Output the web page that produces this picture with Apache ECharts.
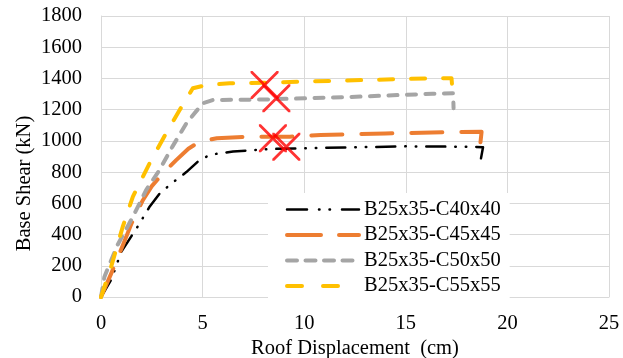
<!DOCTYPE html>
<html><head><meta charset="utf-8">
<script src="https://cdn.jsdelivr.net/npm/echarts@6/dist/echarts.min.js"></script>
<style>html,body{margin:0;padding:0;background:#fff}#c{width:623px;height:358px}</style>
</head><body><div id="c"></div>
<script>
const seriesNames = ['B25x35-C40x40','B25x35-C45x45','B25x35-C50x50','B25x35-C55x55'];
const xTicks = [0,5,10,15,20,25];
const yTicks = [0,200,400,600,800,1000,1200,1400,1600,1800];
const c40 = [[0,0],[0.5,110],[1.0,290],[1.8,450],[2.4,580],[2.9,665],[3.5,730],[4.2,800],[4.85,877],[5.4,912],[6.5,932],[8.3,948],[10,953],[12,958],[15,965],[18.4,962],[18.8,959],[18.7,888]];
const c45 = [[0,0],[0.5,150],[1.07,330],[1.5,470],[2.06,620],[2.5,710],[2.97,781],[3.7,877],[4.3,950],[4.85,995],[5.7,1017],[7.2,1027],[9.3,1027],[10.8,1038],[14,1048],[17.5,1057],[18.73,1059],[18.6,900]];
const c50 = [[0,0],[0.17,130],[0.8,330],[1.57,514],[2.22,685],[2.88,814],[3.5,960],[4.2,1112],[5.0,1240],[5.5,1262],[8,1265],[12,1280],[16.3,1302],[17.33,1305],[17.35,1209]];
const c55 = [[0,0],[0.5,194],[1.07,450],[1.57,643],[2.39,856],[3.2,1048],[3.87,1198],[4.52,1337],[5.18,1358],[6.33,1369],[8,1372],[10,1380],[13,1390],[16,1400],[17.25,1402],[17.3,1318]];
const crossMarks = [[8.05,1358],[8.63,1273],[8.46,1017],[9.12,963]];

const font = 'Liberation Serif';
const colors = ['#000000','#ED7D31','#A5A5A5','#FFC000'];
const dashes = [[19,10,0.5,10,0.5,10],[31,19],[9,9.5],[14,18]];
const legendDashes = [[20,12,0.5,10,0.5,12],[34,18],[10,8.5],[15,21]];
const widths = [2.5,4,4,4];
const datas = [c40,c45,c50,c55];
const xPath = 'path://M0,0L2,0L14,12L26,0L28,0L28,2L16,14L28,26L28,28L26,28L14,16L2,28L0,28L0,26L12,14L0,2Z';

const chart = echarts.init(document.getElementById('c'), null, {renderer:'canvas'});
const series = seriesNames.map((n,i)=>({
  name:n, type:'line', data:datas[i], symbol:'none', smooth:false,
  lineStyle:{color:colors[i], width:widths[i], type:dashes[i], cap:'round', join:'round'},
  itemStyle:{color:colors[i]}, z:2+i
}));
series.push({type:'scatter', data:crossMarks, symbol:xPath, symbolSize:28, itemStyle:{color:'#FF0000'}, z:10, silent:true});
chart.setOption({
  animation:false,
  backgroundColor:'#fff',
  grid:{left:101, right:14, top:16, bottom:61, containLabel:false, outerBoundsMode:'none'},
  xAxis:{type:'value', min:xTicks[0], max:xTicks[xTicks.length-1], interval:5,
    name:'Roof Displacement  (cm)', nameLocation:'middle', nameGap:41, nameMoveOverlap:false,
    nameTextStyle:{fontFamily:font, fontSize:20.5, color:'#000'},
    axisLine:{show:true, lineStyle:{color:'#D9D9D9'}}, axisTick:{show:false},
    axisLabel:{fontFamily:font, fontSize:20.5, color:'#000', margin:16, formatter:v=>String(v)},
    splitLine:{show:true, lineStyle:{color:'#D9D9D9', width:1}}},
  yAxis:{type:'value', min:yTicks[0], max:yTicks[yTicks.length-1], interval:200,
    name:'Base Shear (kN)', nameLocation:'middle', nameGap:66, nameMoveOverlap:false,
    nameTextStyle:{fontFamily:font, fontSize:20.5, color:'#000', padding:[0,54,0,0]},
    axisLine:{show:true, lineStyle:{color:'#D9D9D9'}}, axisTick:{show:false},
    axisLabel:{fontFamily:font, fontSize:20.5, color:'#000', margin:19, formatter:v=>String(v)},
    splitLine:{show:true, lineStyle:{color:'#D9D9D9', width:1}}},
  legend:{data:seriesNames.map((n,i)=>({name:n,
      itemStyle:{opacity:0},
      lineStyle:{color:colors[i], width:widths[i], type:legendDashes[i], cap:'round'}})),
    orient:'vertical', left:268, top:193, backgroundColor:'#fff',
    padding:[6,9,4,17], itemWidth:72, itemHeight:14, itemGap:4.5, z:20,
    textStyle:{fontFamily:font, fontSize:20.5, color:'#000', lineHeight:20}},
  series:series
});
</script></body></html>
